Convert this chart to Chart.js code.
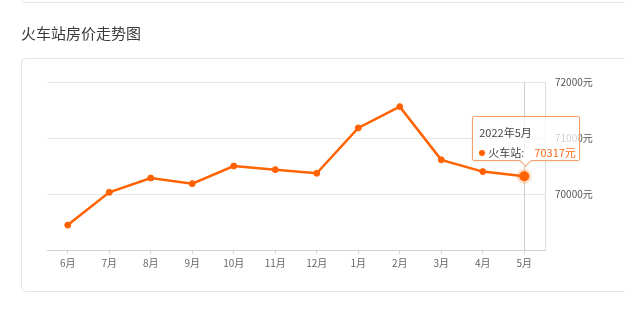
<!DOCTYPE html>
<html>
<head>
<meta charset="utf-8">
<script src="https://cdn.jsdelivr.net/npm/chart.js@4"></script>
<style>
    html, body {
        margin: 0;
        padding: 0;
        width: 625px;
        height: 313px;
        overflow: hidden;
        background: #fff;
        font-family: "Noto Sans CJK SC", "Noto Sans", sans-serif;
    }
    .card {
        position: absolute;
        left: 21px;
        width: 640px;
        border: 1px solid #e6e6e6;
        border-radius: 4px;
        background: #fff;
        box-sizing: border-box;
    }
    .card.prev { top: -50px; height: 53px; }
    .card.main { top: 58px; height: 234px; }
    .title {
        position: absolute;
        left: 21px;
        top: 23px;
        font-size: 15px;
        line-height: 20px;
        color: #3a3a3a;
    }
    #chartWrap {
        position: absolute;
        left: 0;
        top: 0;
        width: 625px;
        height: 313px;
    }
    #tip {
        position: absolute;
        display: none;
        width: 108px;
        height: 45px;
        box-sizing: border-box;
        background: rgba(255, 255, 255, 0.72);
        border: 1px solid #f4a06a;
        border-radius: 2px;
        box-shadow: 0 1px 3px rgba(0, 0, 0, 0.08);
        font-size: 11px;
        color: #444;
        padding: 5px 0 0 6px;
        line-height: 20px;
    }
    #tip .arrow {
        position: absolute;
        left: 48px;
        bottom: -5px;
        width: 8px;
        height: 8px;
        background: #fff;
        border-right: 1px solid #f4a06a;
        border-bottom: 1px solid #f4a06a;
        transform: rotate(45deg);
    }
    #tip .dot {
        display: inline-block;
        width: 6px;
        height: 6px;
        border-radius: 50%;
        background: #ff6200;
        margin-right: 3px;
        vertical-align: 1px;
    }
    #tip .val {
        color: #ff6a1a;
        margin-left: 10px;
        font-size: 11px;
    }
</style>
</head>
<body>
<div class="card prev"></div>
<div class="title">火车站房价走势图</div>
<div class="card main"></div>
<div id="chartWrap">
    <canvas id="priceChart" width="625" height="313"></canvas>
    <div id="tip"></div>
</div>
<script>
// Monthly prices for 火车站, June 2021 - May 2022
const months = ['6月', '7月', '8月', '9月', '10月', '11月', '12月', '1月', '2月', '3月', '4月', '5月'];
const periods = ['2021年6月', '2021年7月', '2021年8月', '2021年9月', '2021年10月', '2021年11月',
    '2021年12月', '2022年1月', '2022年2月', '2022年3月', '2022年4月', '2022年5月'];
const prices = [69445, 70030, 70285, 70185, 70500, 70435, 70370, 71180, 71560, 70610, 70400, 70317];
const seriesName = '火车站';
const yTicks = [69000, 70000, 71000, 72000];
const activeIndex = 11;

const lineColor = '#ff6200';
const tipEl = document.getElementById('tip');

// HTML tooltip placed above the active point
function externalTooltip(context) {
    const tooltip = context.tooltip;
    if (tooltip.opacity === 0) {
        tipEl.style.display = 'none';
        return;
    }
    const idx = tooltip.dataPoints[0].dataIndex;
    tipEl.innerHTML = '<div>' + periods[idx] + '</div>' +
        '<div><span class="dot"></span>' + seriesName + ':<span class="val">' + prices[idx] + '元</span></div>' +
        '<div class="arrow"></div>';
    tipEl.style.display = 'block';
    tipEl.style.left = (tooltip.caretX - 52) + 'px';
    tipEl.style.top = (tooltip.caretY - 15 - 45) + 'px';
}

// vertical pointer line at the active month
const crosshair = {
    id: 'crosshair',
    beforeDatasetsDraw(chart) {
        const ctx = chart.ctx;
        const area = chart.chartArea;
        const x = Math.round(chart.scales.x.getPixelForValue(activeIndex)) + 0.5;
        ctx.save();
        ctx.strokeStyle = '#cfcfcf';
        ctx.lineWidth = 1;
        ctx.beginPath();
        ctx.moveTo(x, area.top);
        ctx.lineTo(x, area.bottom);
        ctx.stroke();
        ctx.restore();
    }
};

const ctx = document.getElementById('priceChart').getContext('2d');
const priceChart = new Chart(ctx, {
    type: 'line',
    data: {
        labels: months,
        datasets: [{
            label: seriesName,
            data: prices,
            borderColor: lineColor,
            backgroundColor: lineColor,
            borderWidth: 2.5,
            tension: 0,
            pointRadius: 3,
            pointBorderWidth: 1,
            pointBorderColor: lineColor,
            pointBackgroundColor: lineColor,
            pointHoverRadius: 5,
            pointHoverBorderWidth: 5,
            pointHoverBackgroundColor: lineColor,
            pointHoverBorderColor: 'rgba(255, 98, 0, 0.22)'
        }]
    },
    options: {
        responsive: false,
        animation: false,
        devicePixelRatio: 1,
        events: [],
        layout: {
            padding: { left: 47, top: 82, right: 0, bottom: 0 }
        },
        plugins: {
            legend: { display: false },
            tooltip: {
                enabled: false,
                external: externalTooltip
            }
        },
        scales: {
            x: {
                offset: true,
                afterFit(scale) { scale.height = 63; },
                grid: {
                    display: true,
                    offset: false,
                    drawOnChartArea: false,
                    drawTicks: true,
                    tickLength: 4,
                    color: '#d6d6d6'
                },
                border: { display: true, color: '#d0d0d0' },
                ticks: {
                    color: '#666',
                    padding: 3,
                    maxRotation: 0,
                    font: { size: 10, family: '"Noto Sans CJK SC", sans-serif' }
                }
            },
            y: {
                position: 'right',
                min: yTicks[0],
                max: yTicks[yTicks.length - 1],
                afterFit(scale) { scale.width = 80; },
                afterBuildTicks(scale) {
                    scale.ticks = yTicks.map(v => ({ value: v }));
                },
                grid: {
                    color: '#e6e6e6',
                    drawTicks: false
                },
                border: { display: true, color: '#dcdcdc' },
                ticks: {
                    color: '#555',
                    padding: 10,
                    font: { size: 10, family: '"Noto Sans CJK SC", sans-serif' },
                    callback: (v) => v === yTicks[0] ? '' : v + '元'
                }
            }
        }
    },
    plugins: [crosshair]
});

const meta = priceChart.getDatasetMeta(0);
const pt = meta.data[activeIndex];
priceChart.setActiveElements([{ datasetIndex: 0, index: activeIndex }]);
priceChart.tooltip.setActiveElements([{ datasetIndex: 0, index: activeIndex }], { x: pt.x, y: pt.y });
priceChart.update();
</script>
</body>
</html>
